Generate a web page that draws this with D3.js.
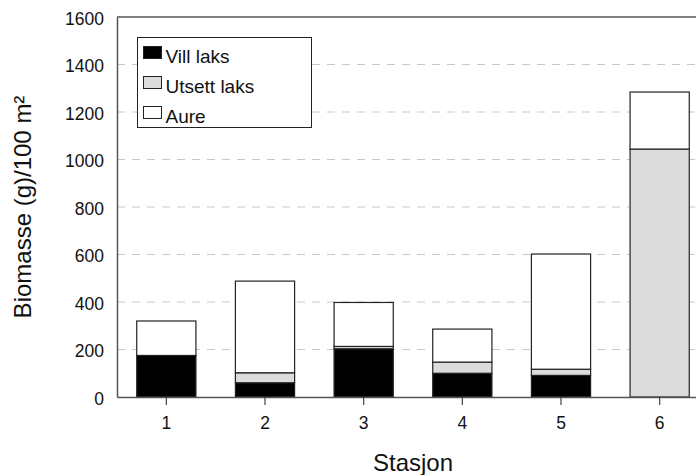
<!DOCTYPE html>
<html>
<head>
<meta charset="utf-8">
<script src="https://cdn.jsdelivr.net/npm/d3@7"></script>
<style>
  body { margin: 0; background: #fff; }
  text { font-family: "Liberation Sans", Arial, sans-serif; }
</style>
</head>
<body>
<div id="chart"></div>
<script>
// stations and biomass per group
const stations = ['1', '2', '3', '4', '5', '6'];
const villLaks = [175, 60, 203, 100, 91, 0];
const utsettLaks = [0, 42, 10, 47, 26, 1044];
const aure = [145, 386, 185, 139, 485, 240];
const yTicks = [0, 200, 400, 600, 800, 1000, 1200, 1400, 1600];

const series = [
  {name: 'Vill laks', values: villLaks, fill: '#000000'},
  {name: 'Utsett laks', values: utsettLaks, fill: '#dcdcdc'},
  {name: 'Aure', values: aure, fill: '#ffffff'}
];

const W = 696, H = 475;
const margin = {t: 17, r: -13, b: 78, l: 117};
const w = W - margin.l - margin.r;
const h = H - margin.t - margin.b;

const svg = d3.select('#chart').append('svg')
  .attr('width', W)
  .attr('height', H);

const plot = svg.append('g')
  .attr('transform', `translate(${margin.l}, ${margin.t})`);

const x = d3.scaleBand().domain(stations).range([0, w]).paddingInner(0.4).paddingOuter(0.2);
const y = d3.scaleLinear().domain([0, 1600]).range([h, 0]);

// dashed grid
plot.selectAll('.grid')
  .data(yTicks.filter(d => d > 0 && d < 1600))
  .enter().append('line')
  .attr('class', 'grid')
  .attr('x1', 0).attr('x2', w)
  .attr('y1', d => y(d)).attr('y2', d => y(d))
  .attr('stroke', '#c8c8c8')
  .attr('stroke-width', 1)
  .attr('stroke-dasharray', '8,7');

// stacked bars
const stackData = stations.map((s, i) => {
  const row = {station: s};
  series.forEach(sr => row[sr.name] = sr.values[i]);
  return row;
});
const stack = d3.stack().keys(series.map(s => s.name));
const layers = stack(stackData);

layers.forEach((layer, k) => {
  plot.append('g')
    .selectAll('rect')
    .data(layer.filter(d => d[1] - d[0] > 0))
    .enter().append('rect')
    .attr('x', d => x(d.data.station))
    .attr('width', x.bandwidth())
    .attr('y', d => y(d[1]))
    .attr('height', d => y(d[0]) - y(d[1]))
    .attr('fill', series[k].fill)
    .attr('stroke', '#222')
    .attr('stroke-width', 1.2);
});

// axes
const xAxis = plot.append('g')
  .attr('transform', `translate(0, ${h})`)
  .call(d3.axisBottom(x).tickSizeInner(8).tickSizeOuter(0).tickPadding(12));
xAxis.select('.domain').attr('stroke', '#555').attr('stroke-width', 1.5);
xAxis.selectAll('.tick line').attr('stroke', '#444').attr('stroke-width', 1.2);
xAxis.selectAll('text')
  .style('font-size', '17.5px').style('fill', '#111')
  .style('font-family', '"Liberation Sans", Arial, sans-serif');

const yAxis = plot.append('g')
  .call(d3.axisLeft(y).tickValues(yTicks).tickFormat(d3.format('d')).tickSize(0).tickPadding(13));
yAxis.select('.domain').attr('stroke', '#555').attr('stroke-width', 1.5);
yAxis.selectAll('text')
  .attr('dy', '0.75em')
  .attr('y', -6)
  .style('font-size', '17.5px').style('fill', '#111')
  .style('font-family', '"Liberation Sans", Arial, sans-serif');

// top frame line
plot.append('line')
  .attr('x1', 0).attr('x2', w)
  .attr('y1', 0).attr('y2', 0)
  .attr('stroke', '#555').attr('stroke-width', 1.5);

// axis titles
svg.append('text')
  .attr('x', 413)
  .attr('y', 471)
  .attr('text-anchor', 'middle')
  .style('font-size', '24px')
  .attr('fill', '#111')
  .text('Stasjon');

svg.append('text')
  .attr('transform', 'translate(31, 207) rotate(-90)')
  .attr('text-anchor', 'middle')
  .style('font-size', '24px')
  .attr('fill', '#111')
  .text('Biomasse (g)/100 m²');

// legend
const legend = svg.append('g').attr('transform', 'translate(137.5, 37.5)');
legend.append('rect')
  .attr('width', 174).attr('height', 90)
  .attr('fill', '#fff').attr('stroke', '#222').attr('stroke-width', 1);

series.forEach((s, i) => {
  const row = legend.append('g').attr('transform', `translate(6, ${9 + i * 30})`);
  row.append('rect')
    .attr('width', 18).attr('height', 12)
    .attr('fill', s.fill).attr('stroke', '#222').attr('stroke-width', 1);
  row.append('text')
    .attr('x', 22).attr('y', 16)
    .style('font-size', '19px')
    .attr('fill', '#111')
    .text(s.name);
});
</script>
</body>
</html>
